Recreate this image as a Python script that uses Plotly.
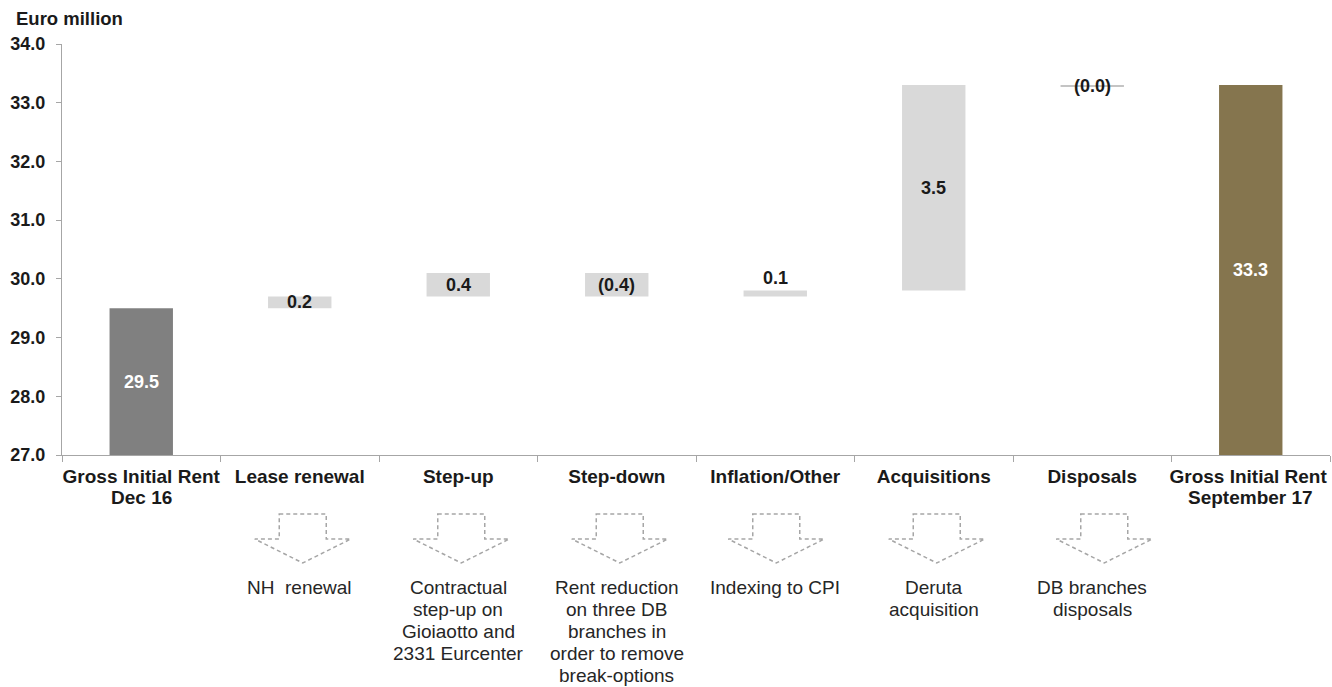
import plotly.graph_objects as go

# Gross initial rent bridge, Dec 16 -> September 17 (Euro million)
categories = ["Gross Initial Rent", "Lease renewal", "Step-up", "Step-down",
              "Inflation/Other", "Acquisitions", "Disposals", "Gross Initial Rent "]
category_sublines = {"Gross Initial Rent": "Dec 16", "Gross Initial Rent ": "September 17"}
start_value = 29.5
deltas = [0.2, 0.4, -0.4, 0.1, 3.5, -0.03]
end_value = 33.3
descriptions = [["NH  renewal"],
                 ["Contractual", "step-up on", "Gioiaotto and", "2331 Eurcenter"],
                 ["Rent reduction", "on three DB", "branches in", "order to remove", "break-options"],
                 ["Indexing to CPI"],
                 ["Deruta", "acquisition"],
                 ["DB branches", "disposals"]]
y_ticks = [27.0, 28.0, 29.0, 30.0, 31.0, 32.0, 33.0, 34.0]

FONT = "Liberation Sans, Arial, sans-serif"
C_START = "#808080"
C_DELTA = "#d9d9d9"
C_END = "#85754e"
C_AXIS = "#a6a6a6"
C_TEXT = "#1a1a1a"

W, H = 1332, 687
M_L, M_R, M_T, M_B = 62, 2, 44, 232
PLOT_W = W - M_L - M_R
PLOT_H = H - M_T - M_B


def py_to_paper(py):
    """Convert a page pixel row into a paper y coordinate."""
    return (H - M_B - py) / PLOT_H


def px_to_paper(px):
    return px / PLOT_W


# floating bases for the bridge steps
bases, heights = [], []
level = start_value
for d in deltas:
    bases.append(level if d >= 0 else level + d)
    heights.append(abs(d))
    level += d

fig = go.Figure()
fig.add_trace(go.Bar(x=[categories[0]], y=[start_value - 27.0], base=[27.0],
                     marker=dict(color=C_START, line=dict(width=0)), width=0.4,
                     hoverinfo="skip"))
fig.add_trace(go.Bar(x=categories[1:7], y=heights, base=bases,
                     marker=dict(color=[C_DELTA] * 5 + ["#c4c4c4"], line=dict(width=0)),
                     width=0.4, hoverinfo="skip"))
fig.add_trace(go.Bar(x=[categories[7]], y=[end_value - 27.0], base=[27.0],
                     marker=dict(color=C_END, line=dict(width=0)), width=0.4,
                     hoverinfo="skip"))


def fmt(v):
    s = f"{abs(v):.1f}"
    return f"({s})" if v < 0 else s


annotations = []
# value labels
annotations.append(dict(x=categories[0], y=(27.0 + start_value) / 2, text=f"<b>{start_value:.1f}</b>",
                        showarrow=False, font=dict(family=FONT, size=18, color="white")))
annotations.append(dict(x=categories[7], y=(27.0 + end_value) / 2, text=f"<b>{end_value:.1f}</b>",
                        showarrow=False, font=dict(family=FONT, size=18, color="white")))
for i, (d, b, h) in enumerate(zip(deltas, bases, heights)):
    ann = dict(x=categories[i + 1], text=f"<b>{fmt(d)}</b>", showarrow=False,
               font=dict(family=FONT, size=18, color=C_TEXT))
    if categories[i + 1] == "Inflation/Other":
        ann.update(y=b + h, yanchor="bottom", yshift=1)
    else:
        ann.update(y=b + h / 2, yanchor="middle")
    annotations.append(ann)

# second line of the two-line category labels
for cat, sub in category_sublines.items():
    annotations.append(dict(x=cat, yref="paper", y=py_to_paper(497), yanchor="middle",
                            text=f"<b>{sub}</b>", showarrow=False,
                            font=dict(family=FONT, size=19, color=C_TEXT)))

# axis title
annotations.append(dict(xref="paper", yref="paper", x=px_to_paper(14 - M_L), y=py_to_paper(18),
                        xanchor="left", yanchor="middle", text="<b>Euro million</b>",
                        showarrow=False, font=dict(family=FONT, size=18.5, color=C_TEXT)))

# explanatory arrows and notes under each bridge step
shapes = []
n = len(categories)
arrow_shift_px = [3, 3, 3, 1, 3, 12]
y_top, y_sh, y_tip = py_to_paper(514), py_to_paper(539), py_to_paper(563)
hw_stem, hw_head = px_to_paper(23.5), px_to_paper(48)
line_gap = 22
for i, lines in enumerate(descriptions):
    xc_cat = (i + 1.5) / n
    xc = xc_cat + px_to_paper(arrow_shift_px[i])
    path = (f"M {xc - hw_stem},{y_top} L {xc + hw_stem},{y_top} L {xc + hw_stem},{y_sh} "
            f"L {xc + hw_head},{y_sh} L {xc},{y_tip} L {xc - hw_head},{y_sh} "
            f"L {xc - hw_stem},{y_sh} Z")
    shapes.append(dict(type="path", xref="paper", yref="paper", path=path,
                       line=dict(color=C_AXIS, width=1.5, dash="4px,3px"),
                       fillcolor="rgba(0,0,0,0)"))
    for k, txt in enumerate(lines):
        annotations.append(dict(xref="paper", yref="paper", x=xc_cat,
                                y=py_to_paper(587 + k * line_gap), xanchor="center",
                                yanchor="middle", text=txt, showarrow=False,
                                font=dict(family=FONT, size=19, color="#262626")))

fig.update_layout(
    width=W, height=H,
    margin=dict(l=M_L, r=M_R, t=M_T, b=M_B, autoexpand=False),
    paper_bgcolor="white", plot_bgcolor="white",
    showlegend=False, barmode="overlay",
    annotations=annotations, shapes=shapes,
    xaxis=dict(type="category", categoryorder="array", categoryarray=categories,
               range=[-0.5, n - 0.5], showline=True, linecolor=C_AXIS, linewidth=1,
               ticks="outside", tickson="boundaries", ticklen=6, tickcolor=C_AXIS,
               tickangle=0, automargin=False,
               ticklabelstandoff=4, showgrid=False, zeroline=False,
               tickfont=dict(family=FONT, size=19, color=C_TEXT, weight="bold")),
    yaxis=dict(range=[27, 34], tickvals=y_ticks, ticktext=[f"{v:.1f}" for v in y_ticks],
               showline=True, linecolor=C_AXIS, linewidth=1, ticks="outside", ticklen=5,
               tickcolor=C_AXIS, ticklabelstandoff=7, showgrid=False, zeroline=False,
               automargin=False,
               tickfont=dict(family=FONT, size=18, color=C_TEXT, weight="bold")),
)

fig.write_html("out.html")
